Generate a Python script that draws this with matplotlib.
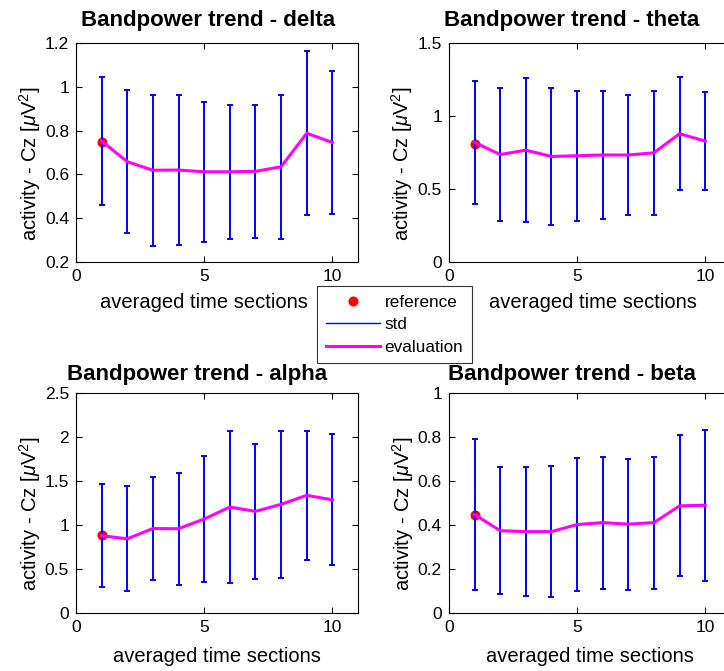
import matplotlib
matplotlib.use("Agg")
import matplotlib.pyplot as plt
from matplotlib.lines import Line2D
from matplotlib.ticker import FuncFormatter, FixedLocator

plt.rcParams['font.family'] = ['Liberation Sans', 'DejaVu Sans']
plt.rcParams['mathtext.fontset'] = 'custom'
plt.rcParams['mathtext.rm'] = 'Liberation Sans'
plt.rcParams['mathtext.it'] = 'Liberation Sans:italic'

sections = [1, 2, 3, 4, 5, 6, 7, 8, 9, 10]
bands = ["delta", "theta", "alpha", "beta"]

delta_mean = [0.752, 0.658, 0.619, 0.620, 0.612, 0.612, 0.614, 0.635, 0.788, 0.746]
delta_std = [0.293, 0.326, 0.344, 0.344, 0.319, 0.306, 0.303, 0.328, 0.375, 0.325]
delta_ref = 0.750

theta_mean = [0.820, 0.736, 0.766, 0.723, 0.728, 0.733, 0.733, 0.748, 0.879, 0.828]
theta_std = [0.420, 0.453, 0.492, 0.467, 0.445, 0.441, 0.411, 0.426, 0.388, 0.337]
theta_ref = 0.810

alpha_mean = [0.879, 0.843, 0.960, 0.958, 1.068, 1.204, 1.155, 1.235, 1.337, 1.286]
alpha_std = [0.587, 0.597, 0.589, 0.636, 0.712, 0.864, 0.769, 0.833, 0.731, 0.744]
alpha_ref = 0.885

beta_mean = [0.448, 0.374, 0.370, 0.370, 0.402, 0.411, 0.404, 0.411, 0.487, 0.490]
beta_std = [0.342, 0.289, 0.292, 0.298, 0.304, 0.300, 0.298, 0.300, 0.320, 0.343]
beta_ref = 0.445

x_ticks = [0, 5, 10]
delta_yticks = [0.2, 0.4, 0.6, 0.8, 1.0, 1.2]
theta_yticks = [0, 0.5, 1.0, 1.5]
alpha_yticks = [0, 0.5, 1.0, 1.5, 2.0, 2.5]
beta_yticks = [0, 0.2, 0.4, 0.6, 0.8, 1.0]

# name, mean, std, ref, yticks, axes rect, title x, title pad, xlabel x, xlabel y
panels = [
    ("delta", delta_mean, delta_std, delta_ref, delta_yticks,
     [0.105, 0.6095, 0.3895, 0.3264], 0.47, 12.5, 0.452, -0.14),
    ("theta", theta_mean, theta_std, theta_ref, theta_yticks,
     [0.620, 0.6095, 0.3895, 0.3264], 0.435, 12.5, 0.512, -0.14),
    ("alpha", alpha_mean, alpha_std, alpha_ref, alpha_yticks,
     [0.105, 0.0864, 0.3895, 0.3279], 0.43, 9.5, 0.5, -0.153),
    ("beta", beta_mean, beta_std, beta_ref, beta_yticks,
     [0.620, 0.0864, 0.3895, 0.3279], 0.435, 9.5, 0.5, -0.153),
]

fig = plt.figure(figsize=(7.24, 6.71), dpi=100)
fmt = FuncFormatter(lambda v, p: "%g" % round(v, 6))

for name, mean, std, ref, yt, pos, tx, tpad, xlx, xly in panels:
    ax = fig.add_axes(pos)
    ax.plot([sections[0]], [ref], 'o', color='red', markersize=6.2, zorder=2)
    ax.errorbar(sections, mean, yerr=std, fmt='none', ecolor='#0000ff',
                elinewidth=1.4, capsize=2.2, capthick=1.4, zorder=3)
    ax.plot(sections, mean, color='#ff00ff', linewidth=2.2, zorder=4)
    ax.set_xlim(0, 11)
    ax.set_ylim(yt[0], yt[-1])
    ax.xaxis.set_major_locator(FixedLocator(x_ticks))
    ax.yaxis.set_major_locator(FixedLocator(yt))
    ax.xaxis.set_major_formatter(fmt)
    ax.yaxis.set_major_formatter(fmt)
    ax.tick_params(direction='in', top=True, right=True, length=4, width=0.8,
                   labelsize=12.5, pad=5, colors='black')
    for s in ax.spines.values():
        s.set_linewidth(0.8)
        s.set_color('black')
    ax.set_title("Bandpower trend - " + name, fontsize=16, fontweight='bold',
                 pad=tpad, x=tx)
    ax.set_xlabel("averaged time sections", fontsize=14.5)
    ax.xaxis.set_label_coords(xlx, xly)
    ax.set_ylabel(r"activity - Cz [$\mu$V$^2$]", fontsize=14.5, labelpad=1.5)
    ax.yaxis.label.set_y(0.45)

handles = [
    Line2D([], [], marker='o', color='red', linestyle='none', markersize=6.2),
    Line2D([], [], color='#0000ff', linewidth=1.0),
    Line2D([], [], color='#ff00ff', linewidth=2.2),
]
leg = fig.legend(handles, ["reference", "std", "evaluation"],
                 loc='upper left', bbox_to_anchor=(317 / 724, 1 - 286 / 671),
                 fontsize=12.3, frameon=True, fancybox=False, borderpad=0.5,
                 handlelength=3.2, handletextpad=0.25, labelspacing=0.45,
                 borderaxespad=0)
leg.get_frame().set_edgecolor('black')
leg.get_frame().set_linewidth(0.8)

fig.savefig("out.png", dpi=100)
